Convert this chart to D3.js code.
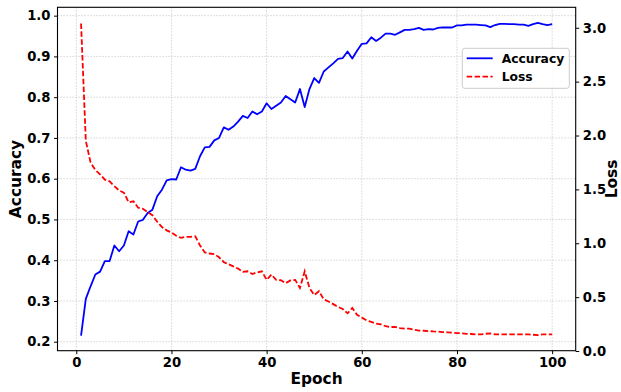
<!DOCTYPE html>
<html>
<head>
<meta charset="utf-8">
<script src="https://cdn.jsdelivr.net/npm/d3@7"></script>
<style>
  body { margin: 0; background: #fff; }
  text { font-family: "DejaVu Sans", sans-serif; font-weight: bold; }
</style>
</head>
<body>
<div id="chart"></div>
<script>
const accuracy = [
  0.215, 0.305, 0.336, 0.365, 0.372, 0.398, 0.398, 0.436, 0.422, 0.436,
  0.471, 0.463, 0.495, 0.499, 0.516, 0.524, 0.557, 0.573, 0.596, 0.599,
  0.598, 0.628, 0.622, 0.620, 0.624, 0.655, 0.677, 0.678, 0.694, 0.700,
  0.726, 0.720, 0.728, 0.740, 0.754, 0.749, 0.765, 0.758, 0.765, 0.785,
  0.771, 0.779, 0.787, 0.803, 0.795, 0.787, 0.820, 0.776, 0.820, 0.847,
  0.835, 0.863, 0.873, 0.883, 0.894, 0.896, 0.912, 0.895, 0.914, 0.931,
  0.932, 0.947, 0.938, 0.946, 0.956, 0.956, 0.953, 0.959, 0.965, 0.965,
  0.967, 0.970, 0.965, 0.967, 0.966, 0.970, 0.971, 0.971, 0.971, 0.976,
  0.976, 0.978, 0.978, 0.978, 0.977, 0.976, 0.972, 0.977, 0.980, 0.980,
  0.979, 0.979, 0.978, 0.978, 0.975, 0.979, 0.982, 0.979, 0.977, 0.979
];
const loss = [
  3.04, 1.95, 1.75, 1.68, 1.64, 1.59, 1.575, 1.53, 1.49, 1.47,
  1.38, 1.39, 1.33, 1.32, 1.29, 1.26, 1.20, 1.15, 1.12, 1.10,
  1.07, 1.05, 1.06, 1.06, 1.065, 0.98, 0.915, 0.905, 0.90, 0.87,
  0.825, 0.805, 0.785, 0.765, 0.735, 0.74, 0.715, 0.73, 0.74, 0.66,
  0.71, 0.66, 0.657, 0.63, 0.655, 0.66, 0.585, 0.74, 0.585, 0.52,
  0.555, 0.48, 0.46, 0.435, 0.41, 0.39, 0.35, 0.40, 0.337, 0.31,
  0.285, 0.27, 0.255, 0.248, 0.23, 0.223, 0.223, 0.213, 0.207, 0.207,
  0.198, 0.19, 0.188, 0.185, 0.182, 0.18, 0.176, 0.174, 0.17, 0.167,
  0.164, 0.16, 0.158, 0.154, 0.154, 0.16, 0.163, 0.154, 0.154, 0.154,
  0.154, 0.155, 0.154, 0.154, 0.154, 0.151, 0.148, 0.154, 0.154, 0.154
];
const epochs = accuracy.map((d, i) => i + 1);
const xTicks = [0, 20, 40, 60, 80, 100];
const accTicks = [0.2, 0.3, 0.4, 0.5, 0.6, 0.7, 0.8, 0.9, 1.0];
const lossTicks = [0.0, 0.5, 1.0, 1.5, 2.0, 2.5, 3.0];

const svgWidth = 621, svgHeight = 392;
const plotLeft = 57.5, plotRight = 575.7, plotTop = 7.3, plotBottom = 350.7;

const svg = d3.select('#chart')
  .append('svg')
  .attr('width', svgWidth)
  .attr('height', svgHeight);

svg.append('rect').attr('width', svgWidth).attr('height', svgHeight).attr('fill', '#fff');

const x = d3.scaleLinear().domain([-3.95, 104.95]).range([plotLeft, plotRight]);
const yAcc = d3.scaleLinear().domain([0.178, 1.0205]).range([plotBottom, plotTop]);
const yLoss = d3.scaleLinear().domain([0.003, 3.19]).range([plotBottom, plotTop]);

// grid
const grid = svg.append('g')
  .attr('stroke', '#c4c4c4')
  .attr('stroke-width', 0.9)
  .attr('stroke-dasharray', '1.2,1.8');
grid.selectAll('.vg').data(xTicks).enter().append('line')
  .attr('x1', d => x(d)).attr('x2', d => x(d))
  .attr('y1', plotTop).attr('y2', plotBottom);
grid.selectAll('.hg').data(accTicks).enter().append('line')
  .attr('x1', plotLeft).attr('x2', plotRight)
  .attr('y1', d => yAcc(d)).attr('y2', d => yAcc(d));

// lines
const accLine = d3.line().x((d, i) => x(epochs[i])).y(d => yAcc(d));
const lossLine = d3.line().x((d, i) => x(epochs[i])).y(d => yLoss(d));

svg.append('path')
  .datum(accuracy)
  .attr('d', accLine)
  .attr('fill', 'none')
  .attr('stroke', '#0000ff')
  .attr('stroke-width', 1.8)
  .attr('stroke-linejoin', 'round');

svg.append('path')
  .datum(loss)
  .attr('d', lossLine)
  .attr('fill', 'none')
  .attr('stroke', '#ff0000')
  .attr('stroke-width', 1.8)
  .attr('stroke-dasharray', '5.5,2.4');

// axes
function styleAxis(g) {
  g.select('.domain').remove();
  g.selectAll('line').attr('stroke', '#000').attr('stroke-width', 1);
  g.selectAll('text').attr('fill', '#000').style('font-size', '13.2px').style('font-weight', 'bold');
}

svg.append('g')
  .attr('transform', `translate(0, ${plotBottom})`)
  .call(d3.axisBottom(x).tickValues(xTicks).tickSize(3.5).tickPadding(3.5).tickFormat(d3.format('d')))
  .call(styleAxis);

svg.append('g')
  .attr('transform', `translate(${plotLeft}, 0)`)
  .call(d3.axisLeft(yAcc).tickValues(accTicks).tickSize(3.5).tickPadding(3.5).tickFormat(d3.format('.1f')))
  .call(styleAxis);

svg.append('g')
  .attr('transform', `translate(${plotRight}, 0)`)
  .call(d3.axisRight(yLoss).tickValues(lossTicks).tickSize(3.5).tickPadding(3.5).tickFormat(d3.format('.1f')))
  .call(styleAxis);

// frame
svg.append('rect')
  .attr('x', plotLeft).attr('y', plotTop)
  .attr('width', plotRight - plotLeft).attr('height', plotBottom - plotTop)
  .attr('fill', 'none').attr('stroke', '#000').attr('stroke-width', 1.1);

// axis labels
svg.append('text')
  .attr('x', (plotLeft + plotRight) / 2).attr('y', 384)
  .attr('text-anchor', 'middle')
  .style('font-size', '15.4px')
  .text('Epoch');

svg.append('text')
  .attr('transform', `translate(21, ${(plotTop + plotBottom) / 2}) rotate(-90)`)
  .attr('text-anchor', 'middle')
  .style('font-size', '15.4px')
  .text('Accuracy');

svg.append('text')
  .attr('transform', `translate(616.5, ${(plotTop + plotBottom) / 2}) rotate(-90)`)
  .attr('text-anchor', 'middle')
  .style('font-size', '15.4px')
  .text('Loss');

// legend
const legend = svg.append('g').attr('transform', 'translate(462.3, 48.3)');
legend.append('rect')
  .attr('width', 107).attr('height', 40)
  .attr('rx', 2.5)
  .attr('fill', '#fff').attr('fill-opacity', 0.8)
  .attr('stroke', '#cccccc').attr('stroke-width', 1);

const legendItems = [
  { name: 'Accuracy', color: '#0000ff', dash: null },
  { name: 'Loss', color: '#ff0000', dash: '5.5,2.4' }
];
legendItems.forEach((item, i) => {
  const yy = 10 + i * 18.4;
  legend.append('line')
    .attr('x1', 4.4).attr('x2', 30.4)
    .attr('y1', yy).attr('y2', yy)
    .attr('stroke', item.color)
    .attr('stroke-width', 1.8)
    .attr('stroke-dasharray', item.dash);
  legend.append('text')
    .attr('x', 39.4).attr('y', yy + 4.5)
    .style('font-size', '12.3px')
    .attr('fill', '#000')
    .text(item.name);
});
</script>
</body>
</html>
